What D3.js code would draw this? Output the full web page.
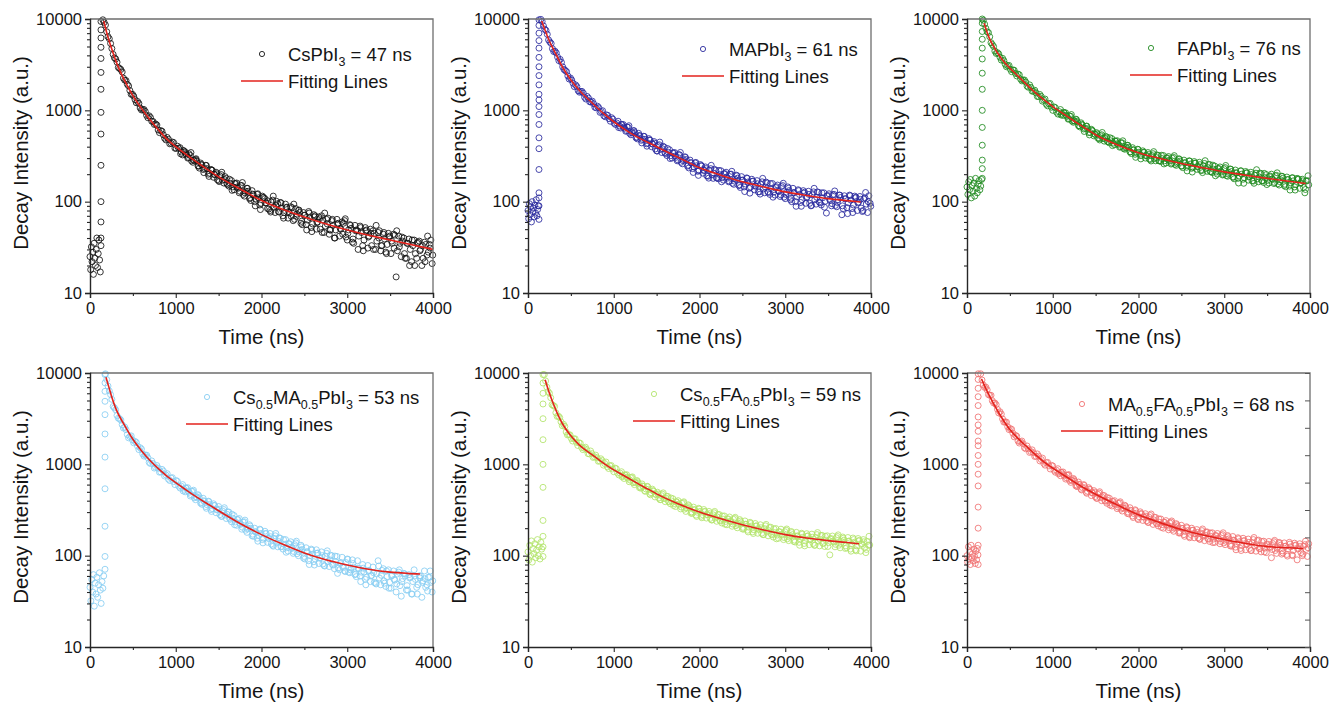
<!DOCTYPE html>
<html>
<head>
<meta charset="utf-8">
<script src="https://cdn.jsdelivr.net/npm/d3@7"></script>
<title>TRPL decay</title>
<style>
  body { margin: 0; background: #fff; }
  text { font-family: Arial, "Liberation Sans", sans-serif; fill: #151515; }
</style>
</head>
<body>
<script>
// ---- data ----
const lifetimes = [47, 61, 76, 53, 59, 68];
// legend name pieces: [text, isSubscript]
const legendParts = [
  [["CsPbI", 0], ["3", 1]],
  [["MAPbI", 0], ["3", 1]],
  [["FAPbI", 0], ["3", 1]],
  [["Cs", 0], ["0.5", 1], ["MA", 0], ["0.5", 1], ["PbI", 0], ["3", 1]],
  [["Cs", 0], ["0.5", 1], ["FA", 0], ["0.5", 1], ["PbI", 0], ["3", 1]],
  [["MA", 0], ["0.5", 1], ["FA", 0], ["0.5", 1], ["PbI", 0], ["3", 1]]
];
const xTicks = [0, 1000, 2000, 3000, 4000];
const xMinorTicks = [500, 1500, 2500, 3500];
const yTicks = [10, 100, 1000, 10000];

// time grid of the counts (ns)
const baseSteps = [8, 8, 10, 10, 10, 8];
const riseTimes = [128, 128, 178, 175, 175, 130];
const decayStarts = [150, 150, 190, 180, 190, 160];
const decayStartsB = [165, 165, 205, 195, 205, 175];
const decayStartsC = [1057, 1057, 1097, 1087, 1097, 1067];
const decayStep = 30;

// CsPbI3
const cspbBase = [25, 18, 32, 22, 28, 16, 35, 24, 20, 30, 40, 19, 27, 38, 23, 17, 33];
const cspbRise = [40, 60, 100, 250, 550, 950, 1700, 2600, 3700, 4900, 6200, 7600, 9400];
const cspbDecay = [
  9800, 8600, 6400, 5400, 4100, 3650, 2950, 2800, 2250, 2120,
  1850, 1500, 1430, 1210, 1190, 1010, 1020, 880, 870, 760,
  700, 690, 570, 590, 495, 505, 430, 450, 385, 405,
  390, 325, 350, 300, 320, 270, 290, 245, 265, 225,
  250, 200, 225, 185, 210, 170, 198, 160, 180, 148,
  170, 135, 160, 125, 150, 115, 140, 108, 132, 100,
  120, 92, 115, 108, 84, 80, 104, 76, 95, 98,
  70, 94, 66, 88, 62, 84, 80, 58, 76, 56,
  78, 52, 72, 50, 68, 70, 46, 64, 44, 62,
  40, 64, 42, 60, 62, 38, 56, 36, 55, 48,
  54, 33, 52, 31, 50, 48, 30, 46, 29, 44,
  28, 45, 27, 44, 15, 42, 25, 40, 24, 39,
  22, 38, 24, 37, 20, 36, 26, 34, 21
];
const cspbDecayB = [
  9190, 7250, 6080, 4750, 3760, 3370, 2870, 2630, 2140, 1930,
  1650, 1500, 1310, 1250, 1060, 1020, 970, 830, 835, 755,
  710, 610, 600, 540, 475, 481, 436, 444, 383, 383,
  349, 360, 324, 334, 279, 285, 279, 233, 252, 230,
  230, 205, 221, 198, 174, 192, 172, 188, 153, 159,
  145, 158, 140, 151, 120, 130, 130, 103, 119, 107,
  110, 96, 111, 97, 83, 99, 87, 101, 77, 84,
  76, 87, 75, 86, 64, 73, 76, 56, 71, 63,
  67, 57, 70, 60, 50, 63, 54, 66, 49, 55,
  49, 58, 50, 58, 41, 49, 51, 35, 49, 42,
  46, 38, 49, 42, 33, 45, 37, 48, 33, 39,
  34, 42, 35, 43, 29, 35, 37, 24, 35, 30,
  33, 27, 36, 30, 24, 34, 28, 38
];
const cspbDecayC = [
  334, 363, 335, 305, 345, 283, 295, 246, 256, 208,
  249, 189, 222, 199, 202, 166, 210, 175, 158, 176,
  133, 158, 145, 130, 162, 125, 140, 110, 121, 90,
  122, 82, 111, 97, 102, 77, 115, 91, 78, 97,
  66, 86, 78, 69, 94, 69, 81, 61, 71, 49,
  75, 47, 68, 59, 65, 46, 75, 57, 49, 64,
  40, 57, 51, 44, 65, 45, 55, 39, 48, 30,
  52, 29, 48, 41, 45, 30, 55, 40, 33, 46,
  27, 41, 37, 31, 48, 32, 41, 27, 35, 20,
  38, 20, 35, 29, 33, 22, 42, 31, 26
];
const cspbFit = [[160, 9500], [200, 6800], [250, 4800], [300, 3500], [400, 2150], [500, 1450], [600, 1050],
  [700, 790], [800, 610], [900, 480], [1000, 400], [1200, 290], [1500, 187], [1800, 130], [2000, 103],
  [2500, 68], [3000, 49], [3500, 38], [4000, 30]];

// MAPbI3
const mapbBase = [80, 65, 95, 72, 88, 60, 100, 78, 85, 68, 92, 75, 105, 70, 82, 90, 64];
const mapbRise = [90, 110, 125, 225, 380, 500, 700, 900, 1100, 1300, 1500, 1900, 2400, 3000, 3800, 4800, 5800, 7000, 8500, 9800];
const mapbDecay = [
  9900, 8400, 7500, 5900, 5400, 4400, 4250, 3500, 3350, 2800,
  2650, 2200, 2150, 1820, 1820, 1580, 1610, 1390, 1420, 1240,
  1260, 1080, 1110, 950, 990, 850, 880, 760, 800, 700,
  760, 640, 700, 590, 650, 540, 600, 500, 560, 470,
  520, 430, 490, 400, 455, 360, 420, 345, 395, 320,
  370, 300, 345, 280, 325, 260, 310, 245, 285, 230,
  265, 215, 255, 205, 240, 190, 230, 180, 220, 178,
  218, 172, 210, 165, 200, 155, 195, 150, 188, 145,
  182, 140, 176, 135, 170, 128, 165, 125, 160, 120,
  158, 118, 152, 114, 150, 108, 145, 105, 140, 100,
  135, 98, 132, 96, 130, 90, 128, 94, 126, 92,
  125, 75, 122, 90, 120, 88, 118, 72, 116, 86,
  118, 84, 115, 80, 114, 78, 110, 76, 96
];
const mapbDecayB = [
  9390, 7740, 6800, 5600, 4730, 4440, 3830, 3610, 2990, 2730,
  2380, 2260, 1980, 1900, 1640, 1610, 1540, 1330, 1360, 1235,
  1180, 1065, 1070, 970, 870, 892, 810, 830, 722, 727,
  676, 698, 636, 657, 560, 575, 570, 487, 524, 481,
  482, 437, 471, 428, 378, 411, 373, 404, 336, 348,
  319, 342, 306, 328, 270, 289, 289, 234, 265, 240,
  247, 219, 247, 221, 192, 222, 197, 226, 181, 198,
  183, 203, 181, 200, 159, 176, 181, 143, 172, 156,
  164, 144, 168, 149, 128, 155, 138, 164, 126, 139,
  127, 146, 129, 146, 112, 127, 132, 100, 126, 113,
  120, 105, 127, 113, 96, 119, 105, 128, 97, 110,
  101, 117, 103, 119, 91, 105, 111, 84, 108, 97,
  104, 92, 112, 99, 85, 107, 94, 116
];
const mapbDecayC = [
  648, 702, 655, 602, 678, 567, 597, 510, 531, 440,
  517, 405, 473, 429, 436, 358, 449, 380, 343, 382,
  297, 342, 316, 287, 346, 281, 305, 250, 268, 209,
  269, 194, 247, 220, 230, 181, 250, 205, 183, 220,
  165, 201, 186, 168, 215, 168, 192, 153, 172, 129,
  180, 124, 167, 148, 157, 121, 180, 145, 128, 158,
  112, 143, 132, 119, 159, 120, 140, 109, 125, 89,
  132, 89, 124, 110, 120, 91, 140, 112, 99, 125,
  87, 115, 106, 95, 131, 98, 118, 90, 107, 74,
  116, 76, 110, 97, 106, 80, 126, 100, 89
];
const mapbFit = [[160, 9500], [200, 7500], [250, 5700], [300, 4600], [400, 3000], [500, 2150], [600, 1650],
  [700, 1330], [800, 1080], [900, 890], [1000, 750], [1200, 560], [1500, 400], [1800, 290], [2000, 235],
  [2250, 195], [2500, 165], [2750, 145], [3000, 128], [3250, 117], [3500, 108], [3750, 102], [3880, 99]];

// FAPbI3
const fapbBase = [145, 120, 165, 135, 175, 110, 150, 130, 160, 115, 180, 140, 125, 155, 170, 135, 148, 175];
const fapbRise = [180, 230, 285, 415, 650, 1000, 1700, 2550, 3650, 4800, 6000, 7300, 9000, 10000];
const fapbDecay = [
  9700, 7900, 7100, 5500, 5000, 4200, 4150, 3550, 3500, 3000,
  3100, 2650, 2750, 2380, 2450, 2100, 2150, 1840, 1900, 1620,
  1660, 1420, 1490, 1260, 1330, 1120, 1190, 1000, 1070, 910,
  1020, 880, 940, 800, 860, 740, 800, 680, 730, 625,
  670, 570, 620, 525, 570, 490, 540, 460, 510, 440,
  490, 420, 465, 395, 440, 375, 415, 350, 390, 330,
  375, 320, 360, 300, 345, 290, 335, 280, 320, 275,
  320, 265, 312, 258, 305, 250, 295, 245, 285, 238,
  280, 232, 275, 226, 270, 220, 262, 215, 255, 208,
  245, 200, 240, 196, 236, 190, 228, 186, 222, 180,
  218, 176, 214, 172, 210, 168, 205, 165, 202, 162,
  198, 160, 200, 158, 194, 152, 190, 150, 186, 148,
  182, 145, 180, 140, 176, 125, 170
];
const fapbDecayB = [
  8790, 7250, 6390, 5250, 4460, 4280, 3810, 3710, 3200, 3070,
  2820, 2770, 2540, 2490, 2200, 2140, 2040, 1790, 1780, 1620,
  1550, 1415, 1420, 1295, 1165, 1180, 1080, 1090, 955, 968,
  925, 937, 859, 869, 762, 767, 750, 658, 689, 636,
  628, 573, 595, 545, 498, 528, 490, 519, 453, 464,
  438, 458, 423, 442, 382, 395, 393, 337, 367, 342,
  348, 321, 346, 320, 292, 320, 296, 325, 280, 296,
  280, 302, 279, 299, 256, 273, 278, 236, 266, 249,
  258, 237, 264, 243, 220, 248, 231, 255, 213, 227,
  211, 231, 211, 230, 193, 209, 214, 178, 206, 191,
  200, 182, 207, 189, 169, 195, 178, 206, 169, 183,
  171, 191, 175, 192, 157, 174, 181, 146, 175, 161,
  169, 154, 177, 161, 143, 168, 153
];
const fapbDecayC = [
  888, 953, 885, 811, 899, 764, 790, 679, 704, 587,
  672, 538, 606, 549, 553, 474, 572, 495, 457, 501,
  411, 461, 432, 402, 464, 388, 413, 351, 371, 306,
  372, 294, 347, 319, 329, 279, 353, 304, 281, 322,
  259, 300, 284, 264, 319, 264, 291, 246, 267, 217,
  278, 211, 264, 241, 254, 208, 281, 236, 214, 251,
  192, 230, 216, 199, 249, 201, 226, 185, 207, 160,
  217, 159, 206, 187, 198, 159, 224, 186, 169, 204,
  154, 188, 177, 162, 207, 166, 189, 155, 174, 134,
  183, 134, 175, 159, 169, 136, 192
];
const fapbFit = [[200, 9000], [250, 6500], [300, 5200], [400, 3700], [500, 2900], [600, 2350], [700, 1900],
  [800, 1550], [900, 1300], [1000, 1100], [1100, 950], [1200, 820], [1300, 710], [1400, 620], [1500, 540],
  [1750, 420], [2000, 343], [2250, 297], [2500, 262], [2750, 235], [3000, 212], [3250, 195], [3500, 180],
  [3750, 167], [3950, 158]];

// Cs0.5MA0.5PbI3
const csmaBase = [45, 32, 55, 40, 62, 28, 50, 38, 58, 35, 48, 65, 42, 30, 52, 44, 60];
const csmaRise = [71, 98, 210, 540, 1200, 2150, 3500, 4900, 6300, 7800, 9600];
const csmaDecay = [
  9800, 7200, 5800, 4300, 3950, 3200, 3050, 2500, 2400, 1950,
  2050, 1720, 1740, 1450, 1470, 1230, 1260, 1050, 1090, 910,
  970, 820, 880, 745, 790, 665, 715, 600, 650, 550,
  600, 500, 555, 450, 505, 410, 465, 375, 425, 345,
  395, 320, 370, 295, 345, 270, 320, 255, 300, 235,
  275, 215, 255, 195, 235, 180, 218, 165, 200, 155,
  195, 150, 185, 140, 175, 130, 165, 125, 155, 118,
  150, 112, 142, 106, 138, 100, 130, 94, 122, 88,
  118, 86, 116, 82, 110, 78, 106, 76, 100, 72,
  98, 70, 96, 68, 92, 65, 90, 62, 88, 60,
  80, 55, 78, 52, 75, 50, 88, 48, 72, 46,
  70, 44, 68, 40, 66, 36, 64, 42, 62, 38,
  70, 45, 60, 35, 68, 48, 58, 40
];
const csmaDecayB = [
  8480, 6370, 5150, 4150, 3430, 3160, 2720, 2560, 2120, 2010,
  1850, 1780, 1580, 1520, 1300, 1260, 1180, 1020, 1020, 930,
  908, 826, 844, 765, 687, 707, 646, 664, 576, 576,
  533, 545, 494, 506, 430, 439, 430, 365, 392, 361,
  364, 328, 353, 317, 281, 308, 278, 302, 250, 257,
  234, 248, 220, 233, 190, 200, 200, 163, 182, 167,
  175, 155, 174, 155, 134, 155, 138, 157, 125, 133,
  122, 135, 120, 132, 105, 115, 117, 92, 110, 100,
  104, 92, 107, 95, 81, 98, 86, 101, 79, 86,
  73, 84, 74, 84, 66, 73, 75, 59, 72, 66,
  66, 58, 69, 61, 51, 63, 57, 69, 50, 59,
  51, 61, 54, 63, 47, 56, 60, 42, 58, 52,
  55, 48, 60, 53, 45, 58, 51
];
const csmaDecayC = [
  511, 553, 510, 466, 521, 435, 453, 383, 399, 330,
  390, 305, 355, 321, 322, 269, 335, 284, 256, 284,
  218, 249, 228, 205, 245, 196, 211, 172, 183, 144,
  192, 138, 175, 155, 161, 127, 175, 143, 126, 150,
  109, 135, 124, 111, 144, 110, 125, 98, 110, 80,
  115, 79, 106, 94, 100, 77, 113, 90, 80, 99,
  64, 82, 76, 67, 91, 70, 82, 63, 73, 52,
  73, 48, 68, 60, 65, 49, 77, 61, 53, 68,
  44, 60, 55, 49, 70, 52, 63, 47, 57, 38,
  60, 38, 57, 51, 56, 41, 68, 53
];
const csmaFit = [[186, 9000], [220, 7000], [250, 5600], [300, 4100], [400, 2700], [500, 1880], [600, 1410],
  [700, 1100], [800, 890], [900, 740], [1000, 630], [1100, 540], [1200, 465], [1300, 405], [1400, 355],
  [1500, 310], [1750, 225], [2000, 170], [2250, 133], [2500, 107], [2750, 90], [3000, 79], [3250, 71],
  [3500, 66], [3700, 64], [3850, 63]];

// Cs0.5FA0.5PbI3
const csfaBase = [110, 90, 130, 100, 145, 85, 120, 105, 135, 95, 115, 150, 100, 125, 92, 140, 118];
const csfaRise = [98, 125, 163, 243, 560, 1000, 1860, 3160, 4580, 6000, 7770, 9600];
const csfaDecay = [
  9600, 7000, 6000, 4500, 4300, 3350, 3250, 2650, 2600, 2100,
  2100, 1800, 1900, 1610, 1700, 1450, 1540, 1310, 1400, 1190,
  1260, 1080, 1150, 980, 1060, 900, 970, 830, 895, 765,
  830, 700, 770, 645, 715, 600, 665, 555, 610, 515,
  575, 475, 535, 440, 495, 410, 470, 390, 445, 370,
  420, 345, 400, 325, 380, 305, 360, 292, 340, 278,
  330, 270, 320, 258, 305, 246, 295, 238, 282, 228,
  272, 218, 265, 210, 256, 202, 248, 196, 240, 190,
  232, 182, 225, 176, 218, 170, 212, 165, 205, 160,
  198, 155, 195, 150, 190, 146, 184, 143, 180, 140,
  176, 136, 174, 132, 172, 130, 170, 128, 167, 126,
  165, 102, 164, 125, 162, 122, 160, 120, 158, 118,
  156, 116, 154, 112, 150, 108, 130
];
const csfaDecayB = [
  8180, 6270, 5360, 4400, 3670, 3370, 2920, 2740, 2260, 2110,
  1920, 1900, 1740, 1720, 1530, 1500, 1450, 1300, 1310, 1210,
  1180, 1090, 1100, 1020, 940, 963, 890, 909, 803, 800,
  749, 761, 703, 715, 630, 636, 625, 549, 574, 537,
  533, 489, 508, 468, 428, 455, 421, 446, 388, 397,
  372, 387, 359, 374, 323, 336, 336, 290, 317, 299,
  305, 281, 304, 281, 256, 281, 259, 282, 240, 251,
  237, 253, 235, 250, 213, 226, 230, 195, 220, 205,
  211, 192, 212, 195, 176, 198, 182, 203, 169, 179,
  168, 183, 168, 183, 153, 166, 170, 141, 164, 153,
  159, 145, 165, 151, 136, 158, 144, 166, 136, 148,
  139, 154, 141, 157, 130, 143, 148, 122, 144, 134,
  140, 128, 147, 135, 122, 143, 131
];
const csfaDecayC = [
  730, 768, 720, 673, 729, 635, 650, 571, 579, 506,
  567, 464, 515, 470, 474, 411, 487, 426, 394, 428,
  354, 389, 367, 341, 389, 331, 351, 302, 319, 269,
  324, 260, 304, 281, 288, 246, 305, 265, 244, 272,
  221, 252, 238, 222, 263, 220, 239, 204, 221, 182,
  225, 175, 211, 194, 202, 170, 220, 188, 172, 197,
  153, 182, 171, 158, 196, 160, 179, 148, 164, 130,
  172, 128, 163, 149, 159, 130, 179, 151, 137, 163,
  126, 152, 144, 133, 169, 136, 155, 128, 144, 112,
  150, 113, 145, 133, 142, 117, 163
];
const csfaFit = [[200, 8450], [250, 6000], [300, 4500], [400, 2800], [500, 2050], [600, 1620], [700, 1370],
  [800, 1170], [900, 1000], [1000, 870], [1100, 770], [1200, 680], [1300, 600], [1400, 535], [1500, 475],
  [1750, 370], [2000, 300], [2250, 253], [2500, 218], [2750, 191], [3000, 170], [3250, 156], [3500, 146],
  [3700, 140], [3860, 135]];

// MA0.5FA0.5PbI3
const mafaBase = [100, 85, 125, 92, 110, 80, 130, 95, 105, 88, 118, 98, 82, 112, 90, 120, 102];
const mafaRise = [80, 130, 200, 340, 580, 780, 1000, 1250, 1600, 1800, 2300, 2700, 3300, 4400, 5500, 6800, 8500, 9800];
const mafaDecay = [
  9800, 7400, 7000, 5800, 5700, 4700, 4500, 3650, 3550, 2900,
  2900, 2400, 2420, 2000, 2030, 1710, 1800, 1520, 1590, 1350,
  1440, 1220, 1300, 1090, 1170, 980, 1050, 890, 960, 820,
  895, 750, 825, 690, 760, 635, 700, 580, 640, 535,
  600, 495, 555, 455, 515, 425, 485, 400, 455, 375,
  425, 350, 400, 328, 378, 308, 356, 290, 335, 272,
  318, 256, 302, 243, 288, 232, 275, 220, 262, 212,
  252, 200, 242, 192, 233, 185, 224, 177, 215, 170,
  207, 162, 200, 157, 193, 152, 188, 146, 182, 143,
  178, 140, 175, 135, 170, 132, 166, 128, 162, 124,
  157, 120, 155, 116, 152, 114, 150, 112, 148, 110,
  144, 108, 143, 95, 142, 106, 140, 104, 138, 103,
  140, 102, 137, 90, 135, 100, 132, 98
];
const mafaDecayB = [
  8380, 6960, 6540, 5700, 4970, 4690, 4010, 3760, 3140, 2910,
  2580, 2460, 2190, 2080, 1800, 1760, 1680, 1480, 1480, 1380,
  1340, 1225, 1230, 1130, 1025, 1040, 960, 975, 860, 860,
  803, 812, 750, 761, 666, 670, 653, 570, 597, 557,
  554, 508, 529, 486, 444, 470, 433, 456, 395, 402,
  377, 390, 360, 374, 323, 335, 334, 287, 310, 289,
  292, 267, 287, 265, 241, 263, 242, 263, 223, 232,
  218, 232, 214, 228, 194, 206, 209, 177, 198, 184,
  188, 171, 190, 174, 157, 177, 164, 181, 152, 162,
  152, 166, 152, 166, 138, 150, 153, 127, 147, 136,
  142, 129, 146, 134, 120, 139, 127, 146, 119, 129,
  121, 134, 123, 136, 114, 125, 130, 107, 127, 119,
  125, 114, 131, 120, 108, 127, 117, 135
];
const mafaDecayC = [
  786, 819, 770, 716, 772, 669, 681, 595, 605, 524,
  588, 482, 536, 490, 492, 425, 501, 436, 401, 433,
  358, 394, 369, 342, 389, 330, 349, 300, 314, 262,
  311, 248, 288, 265, 271, 231, 286, 247, 227, 253,
  204, 232, 218, 203, 240, 201, 218, 185, 199, 163,
  202, 157, 189, 174, 180, 151, 196, 167, 154, 177,
  139, 165, 155, 143, 178, 144, 161, 133, 148, 116,
  153, 114, 145, 132, 140, 114, 158, 132, 120, 143,
  110, 132, 125, 117, 147, 120, 136, 113, 126, 99,
  134, 100, 129, 118, 126, 104, 144, 122
];
const mafaFit = [[170, 8600], [200, 7400], [250, 5900], [300, 4800], [400, 3300], [500, 2400], [600, 1900],
  [700, 1550], [800, 1270], [900, 1060], [1000, 910], [1100, 790], [1200, 690], [1300, 600], [1400, 530],
  [1500, 470], [1750, 360], [2000, 280], [2250, 230], [2500, 193], [2750, 168], [3000, 150], [3250, 136],
  [3500, 126], [3750, 122], [3920, 120]];

const bases = [cspbBase, mapbBase, fapbBase, csmaBase, csfaBase, mafaBase];
const rises = [cspbRise, mapbRise, fapbRise, csmaRise, csfaRise, mafaRise];
const decays = [cspbDecay, mapbDecay, fapbDecay, csmaDecay, csfaDecay, mafaDecay];
const decaysB = [cspbDecayB, mapbDecayB, fapbDecayB, csmaDecayB, csfaDecayB, mafaDecayB];
const decaysC = [cspbDecayC, mapbDecayC, fapbDecayC, csmaDecayC, csfaDecayC, mafaDecayC];
const fits = [cspbFit, mapbFit, fapbFit, csmaFit, csfaFit, mafaFit];

// ---- layout / style ----
const width = 1330, height = 706;
const colX = [90, 528, 967], rowY = [19, 373];
const plotW = 343, plotH = 274;
const legendPos = [[172, 35], [175, 30], [184, 29], [117, 24], [126, 21], [115, 31]];
const colors = ["#141414", "#2b2b9e", "#1f8a1f", "#88cdf2", "#b2e46c", "#f07272"];
const fitColor = "#e3221c";

const svg = d3.select("body").append("svg")
  .attr("width", width).attr("height", height)
  .attr("viewBox", [0, 0, width, height]);

function drawPanel(k) {
  const g = svg.append("g")
    .attr("transform", `translate(${colX[k % 3]},${rowY[Math.floor(k / 3)]})`);

  const x = d3.scaleLinear().domain([0, 4000]).range([0, plotW]);
  const y = d3.scaleLog().domain([10, 10000]).range([plotH, 0]);

  const pts = bases[k].map((v, i) => [i * baseSteps[k], v])
    .concat(rises[k].map(v => [riseTimes[k], v]))
    .concat(decays[k].map((v, i) => [decayStarts[k] + i * decayStep, v]))
    .concat(decaysB[k].map((v, i) => [decayStartsB[k] + i * decayStep, v]))
    .concat(decaysC[k].map((v, i) => [decayStartsC[k] + i * decayStep, v]));

  g.append("g").selectAll("circle")
    .data(pts)
    .join("circle")
    .attr("cx", d => x(d[0]))
    .attr("cy", d => y(d[1]))
    .attr("r", 3)
    .attr("fill", "none")
    .attr("stroke", colors[k])
    .attr("stroke-width", 0.85);

  g.append("path")
    .datum(fits[k])
    .attr("d", d3.line().x(d => x(d[0])).y(d => y(d[1])).curve(d3.curveMonotoneX))
    .attr("fill", "none")
    .attr("stroke", fitColor)
    .attr("stroke-width", 1.6);

  // frame: top / right lighter
  g.append("path").attr("d", `M0,0H${plotW}V${plotH}`)
    .attr("fill", "none").attr("stroke", "#6e6e6e").attr("stroke-width", 1.3);

  // x axis
  g.append("g").attr("transform", `translate(0,${plotH})`)
    .call(d3.axisBottom(x).tickValues(xTicks).tickSize(5).tickPadding(4).tickFormat(d3.format("d")));
  g.append("g").attr("transform", `translate(0,${plotH})`)
    .call(d3.axisBottom(x).tickValues(xMinorTicks).tickSize(3).tickFormat(""))
    .call(a => a.select(".domain").remove());

  // y axis
  g.append("g")
    .call(d3.axisLeft(y).tickValues(yTicks).tickSize(5).tickPadding(3).tickFormat(d3.format("d")));
  g.append("g")
    .call(d3.axisLeft(y).tickValues(y.ticks().filter(t => !yTicks.includes(t))).tickSize(3).tickFormat(""))
    .call(a => a.select(".domain").remove());

  g.selectAll(".domain").attr("stroke", "#262626").attr("stroke-width", 1.4);
  g.selectAll(".tick line").attr("stroke", "#262626").attr("stroke-width", 1.1);
  g.selectAll(".tick text").attr("font-size", "16.5px").attr("fill", "#151515")
    .attr("font-family", "Arial, 'Liberation Sans', sans-serif");

  if (k === 5) {
    // inner ticks along the right frame
    const r = d3.scaleLinear().domain([0, 10]).range([plotH, 0]);
    g.append("g").attr("transform", `translate(${plotW},0)`)
      .call(d3.axisLeft(r).ticks(10).tickSize(5).tickFormat(""))
      .call(a => a.select(".domain").remove())
      .selectAll("line").attr("stroke", "#555");
  }

  // axis titles
  g.append("text")
    .attr("x", plotW / 2).attr("y", plotH + 51)
    .attr("text-anchor", "middle").attr("font-size", "20.5px")
    .text("Time (ns)");
  g.append("text")
    .attr("transform", `translate(-70,${plotH / 2 - 3}) rotate(-90)`)
    .attr("text-anchor", "middle").attr("dominant-baseline", "central")
    .attr("font-size", "20.5px")
    .text("Decay Intensity (a.u.)");

  // legend
  const [lx, ly] = legendPos[k];
  g.append("circle").attr("cx", lx).attr("cy", ly).attr("r", 2.6)
    .attr("fill", "none").attr("stroke", colors[k]).attr("stroke-width", 0.9);
  g.append("line").attr("x1", lx - 21).attr("x2", lx + 21)
    .attr("y1", ly + 27).attr("y2", ly + 27)
    .attr("stroke", fitColor).attr("stroke-width", 1.6);

  const lt = g.append("text").attr("x", lx + 26).attr("y", ly + 6.5).attr("font-size", "18.5px");
  let down = false;
  legendParts[k].forEach(([s, sub]) => {
    const ts = lt.append("tspan").text(s);
    if (sub && !down) { ts.attr("dy", 5).attr("font-size", "12.5px"); down = true; }
    else if (sub) { ts.attr("font-size", "12.5px"); }
    else if (down) { ts.attr("dy", -5); down = false; }
  });
  lt.append("tspan").attr("dy", down ? -5 : 0).text(` = ${lifetimes[k]} ns`);

  g.append("text").attr("x", lx + 26).attr("y", ly + 27 + 6.5)
    .attr("font-size", "18.5px").text("Fitting Lines");
}

for (let k = 0; k < 6; k++) drawPanel(k);
</script>
</body>
</html>
